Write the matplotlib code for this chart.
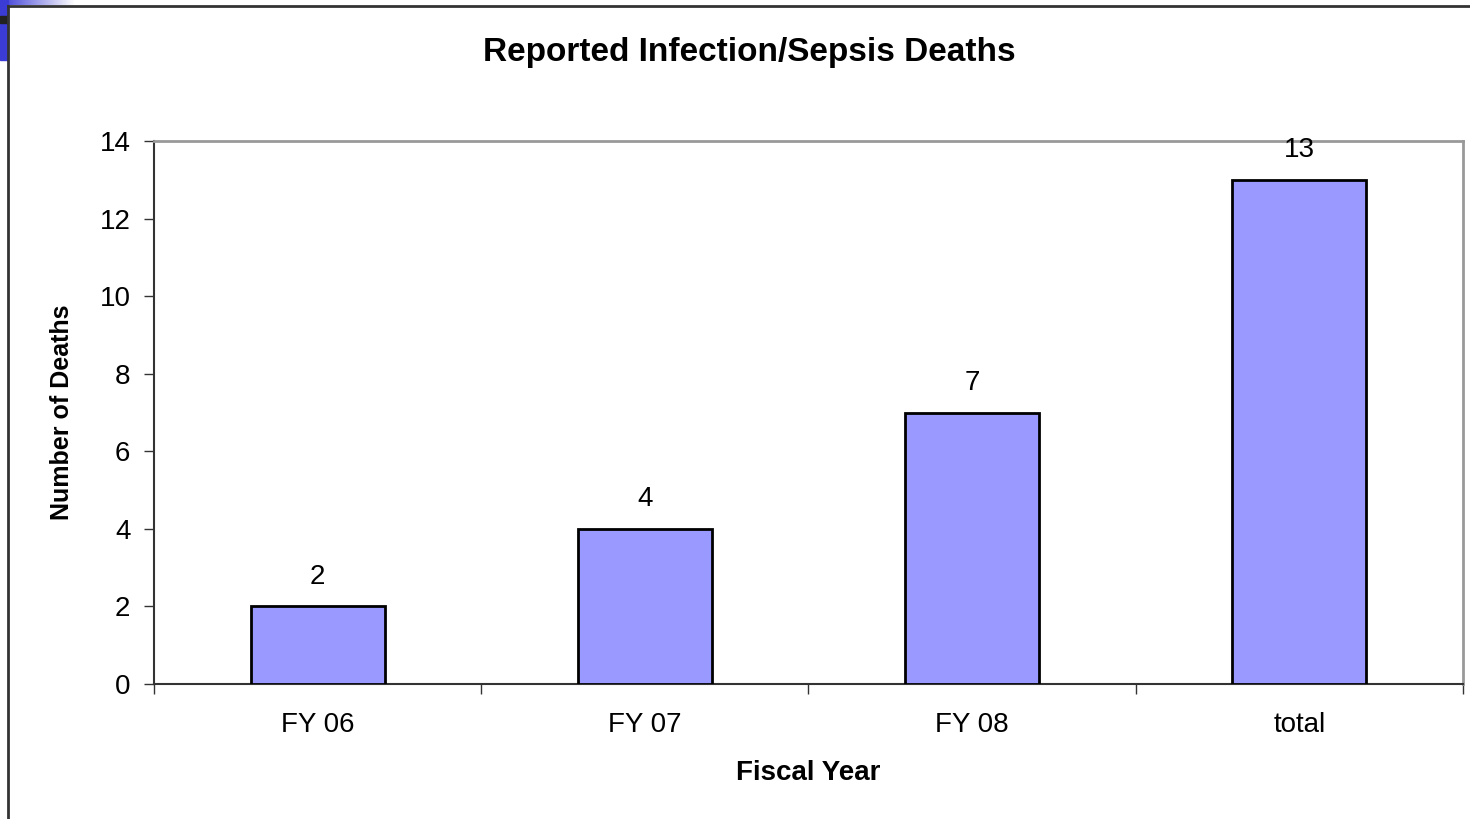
import numpy as np
import matplotlib
matplotlib.use('Agg')
import matplotlib.pyplot as plt
from matplotlib.patches import Rectangle
from matplotlib.lines import Line2D

plt.rcParams['font.family'] = ['Liberation Sans', 'DejaVu Sans']

# data
categories = ['FY 06', 'FY 07', 'FY 08', 'total']
deaths = [2, 4, 7, 13]
yticks = [0, 2, 4, 6, 8, 10, 12, 14]

fig = plt.figure(figsize=(14.7, 8.19), dpi=100)
W, H = 1470, 819

# slide leftovers: blue strip at top-left, outer frame
fig.patches.append(Rectangle((0, 1 - 60 / H), 8 / W, 60 / H, transform=fig.transFigure,
                             color='#3b3bd6', zorder=0))
fig.patches.append(Rectangle((0, 1 - 23 / H), 8 / W, 7 / H, transform=fig.transFigure,
                             color='#222222', zorder=1))
grad = fig.add_axes([0, 1 - 5 / H, 75 / W, 5 / H])
grad.imshow(np.linspace(0, 1, 100).reshape(1, -1), cmap=matplotlib.colors.LinearSegmentedColormap.from_list('g', ['#3b3bd6', '#ffffff']),
            aspect='auto')
grad.axis('off')
fig.lines.append(Line2D([8 / W, 1], [1 - 6 / H, 1 - 6 / H], transform=fig.transFigure,
                        color='#333333', lw=2))
fig.lines.append(Line2D([8 / W, 8 / W], [0, 1 - 6 / H], transform=fig.transFigure,
                        color='#333333', lw=2))

ax = fig.add_axes([154 / W, 1 - 684 / H, (1463 - 154) / W, (684 - 141) / H])
x = np.arange(len(categories))
bars = ax.bar(x, deaths, width=0.41, color='#9999ff', edgecolor='black', linewidth=2, zorder=3)

for xi, v in zip(x, deaths):
    ax.annotate(str(v), (xi, v), xytext=(0, 12), textcoords='offset points',
                ha='center', va='bottom', fontsize=20)

ax.set_xlim(-0.5, len(categories) - 0.5)
ax.set_ylim(0, 14)
ax.set_yticks(yticks)
ax.set_xticks(x)
ax.set_xticklabels(categories, fontsize=20)
ax.tick_params(axis='x', which='major', length=0, pad=20)
ax.set_xticks(np.arange(-0.5, len(categories), 1), minor=True)
ax.tick_params(axis='x', which='minor', length=7, width=1, direction='out', color='#333333')
ax.tick_params(axis='y', length=7, width=1, direction='out', labelsize=20, pad=10, color='#333333')

for s in ['top', 'right']:
    ax.spines[s].set_color('#999999')
    ax.spines[s].set_linewidth(2)
for s in ['left', 'bottom']:
    ax.spines[s].set_color('#333333')
    ax.spines[s].set_linewidth(1.5)

ax.set_xlabel('Fiscal Year', fontsize=20, fontweight='bold', labelpad=16)
ax.xaxis.label.set_fontstretch('expanded')
ax.set_ylabel('Number of Deaths', fontsize=18, fontweight='bold', labelpad=18)
fig.text(749 / W, 1 - 52 / H, 'Reported Infection/Sepsis Deaths', ha='center', va='center',
         fontsize=24, fontweight='bold')

fig.savefig('out.png', dpi=100)
